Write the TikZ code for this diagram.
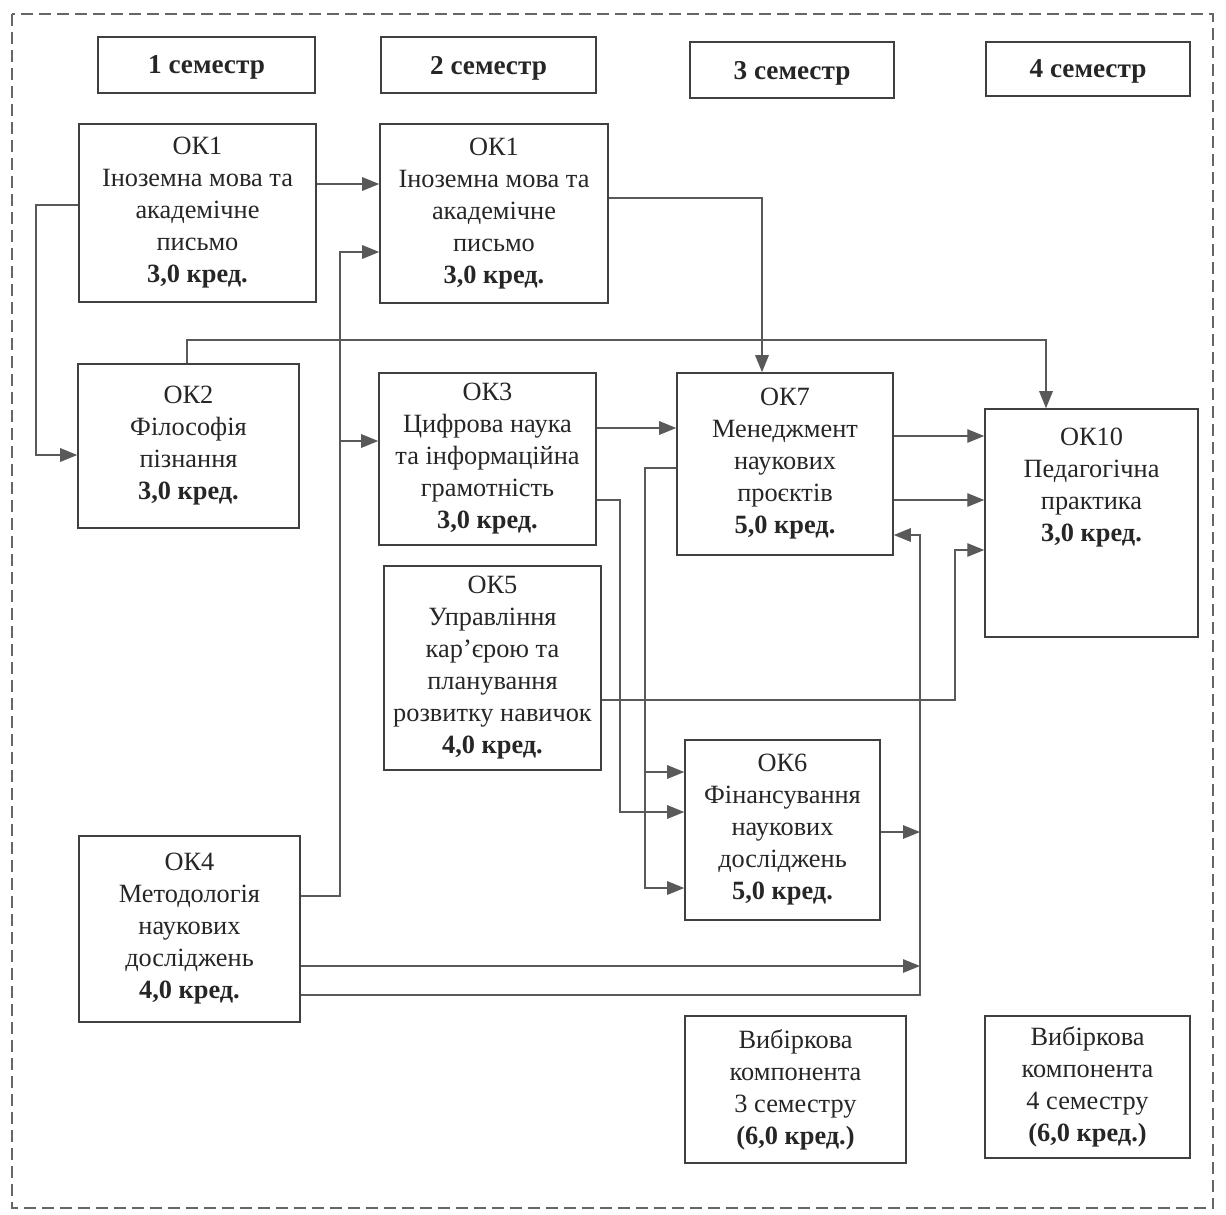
\documentclass[tikz,border=0pt]{standalone}
\usepackage{fontspec}
\setmainfont{Liberation Serif}
\usetikzlibrary{arrows.meta}
\tikzset{
  okbox/.style={draw=black!75, line width=0.9pt, rectangle, align=center, text=black!85,
    font=\fontsize{15}{18.2}\selectfont, inner sep=2pt},
  sembox/.style={draw=black!75, line width=0.9pt, rectangle, text=black!85,
    font=\fontsize{15.5}{18}\selectfont\bfseries, text depth=0pt},
  link/.style={draw=black!65, line width=0.8pt},
  arr/.style={link, -{Triangle[length=0.34cm, width=0.27cm]}},
  frame/.style={draw=black!60, line width=0.9pt, dash pattern=on 0.24cm off 0.12cm}
}

\begin{document}
\begin{tikzpicture}[x=0.02cm, y=-0.02cm]
	%%%%% START %%%%%
	\useasboundingbox (0,0) rectangle (1226,1214);
	\draw[frame] (12,14) rectangle (1213,1208);

	\node[sembox, minimum width=4.34cm, minimum height=1.12cm] (sem1) at (206.5,65) {1 семестр};
	\node[sembox, minimum width=4.30cm, minimum height=1.12cm] (sem2) at (488.5,65) {2 семестр};
	\node[sembox, minimum width=4.08cm, minimum height=1.12cm] (sem3) at (792,70) {3 семестр};
	\node[sembox, minimum width=4.08cm, minimum height=1.08cm] (sem4) at (1088,69) {4 семестр};

	\node[okbox, minimum width=4.74cm, minimum height=3.56cm] (ok1a) at (197.5,213)
		{ОК1\\Іноземна мова та\\академічне\\письмо\\\textbf{3,0 кред.}};
	\node[okbox, minimum width=4.56cm, minimum height=3.58cm] (ok1b) at (494,213.5)
		{ОК1\\Іноземна мова та\\академічне\\письмо\\\textbf{3,0 кред.}};
	\node[okbox, minimum width=4.42cm, minimum height=3.28cm] (ok2) at (188.5,446)
		{ОК2\\Філософія\\пізнання\\\textbf{3,0 кред.}};
	\node[okbox, minimum width=4.34cm, minimum height=3.44cm] (ok3) at (487.5,459)
		{ОК3\\Цифрова наука\\та інформаційна\\грамотність\\\textbf{3,0 кред.}};
	\node[okbox, minimum width=4.32cm, minimum height=3.64cm] (ok7) at (785,464)
		{ОК7\\Менеджмент\\наукових\\проєктів\\\textbf{5,0 кред.}};
	\node[okbox, minimum width=4.26cm, minimum height=4.56cm] (ok10) at (1091.5,523)
		{ОК10\\Педагогічна\\практика\\\textbf{3,0 кред.}\\[0.9cm]\mbox{}};
	\node[okbox, minimum width=4.34cm, minimum height=4.08cm] (ok5) at (492.5,668)
		{ОК5\\Управління\\кар’єрою та\\планування\\розвитку навичок\\\textbf{4,0 кред.}};
	\node[okbox, minimum width=3.90cm, minimum height=3.60cm] (ok6) at (782.5,830)
		{ОК6\\Фінансування\\наукових\\досліджень\\\textbf{5,0 кред.}};
	\node[okbox, minimum width=4.42cm, minimum height=3.72cm] (ok4) at (189.5,929)
		{ОК4\\Методологія\\наукових\\досліджень\\\textbf{4,0 кред.}};
	\node[okbox, minimum width=4.42cm, minimum height=2.94cm] (vyb3) at (795.5,1089.5)
		{Вибіркова\\компонента\\3 семестру\\\textbf{(6,0 кред.)}};
	\node[okbox, minimum width=4.10cm, minimum height=2.84cm] (vyb4) at (1087.5,1087)
		{Вибіркова\\компонента\\4 семестру\\\textbf{(6,0 кред.)}};

	% 1 semester links
	\draw[arr] (ok1a.east |- 0,184) -- (ok1b.west |- 0,184);
	\draw[arr] (ok1a.west |- 0,205) -- (36,205) -- (36,455) -- (ok2.west |- 0,455);
	\draw[arr] (ok2.north -| 187,0) -- (187,340) -| (ok10.north -| 1046,0);
	\draw[arr] (ok4.east |- 0,896) -| (340,252) -- (ok1b.west |- 0,252);
	\draw[arr] (340,441) -- (ok3.west |- 0,441);
	\draw[arr] (ok4.east |- 0,966) -- (920,966);
	\draw[arr] (ok4.east |- 0,995) -| (920,535) -- (ok7.east |- 0,535);

	% 2 semester links
	\draw[arr] (ok1b.east |- 0,198) -| (ok7.north -| 762,0);
	\draw[arr] (ok3.east |- 0,428) -- (ok7.west |- 0,428);
	\draw[arr] (ok3.east |- 0,500) -| (620,812) -- (ok6.west |- 0,812);
	\draw[arr] (ok5.east |- 0,700) -| (955,550) -- (ok10.west |- 0,550);

	% 3 semester links
	\draw[arr] (ok7.west |- 0,468) -| (645,888) -- (ok6.west |- 0,888);
	\draw[arr] (645,772) -- (ok6.west |- 0,772);
	\draw[arr] (ok7.east |- 0,436) -- (ok10.west |- 0,436);
	\draw[arr] (ok7.east |- 0,500) -- (ok10.west |- 0,500);
	\draw[arr] (ok6.east |- 0,832) -- (920,832);
	%%%%% END %%%%%
\end{tikzpicture}
\end{document}
